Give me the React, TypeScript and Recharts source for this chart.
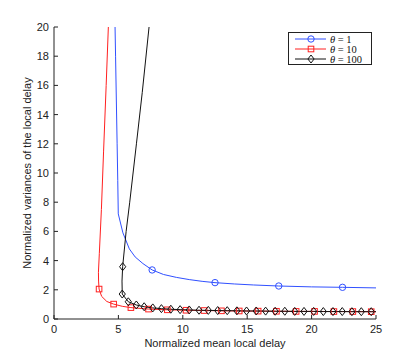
import React from 'react';
import { LineChart, Line, XAxis, YAxis } from 'recharts';

// curve points: x = mean delay, y = variance, m = marker drawn
const blueX = [4.74, 4.78, 4.84, 4.9, 4.95, 4.99, 5.35, 5.85, 6.3, 6.9, 7.62, 8.5, 9.5, 10.5, 11.5, 12.5, 14.0, 15.5, 17.45, 20.0, 22.4, 25.0];
const blueY = [20, 18, 15, 12, 9.5, 7.2, 5.9, 4.8, 4.25, 3.8, 3.36, 3.05, 2.85, 2.7, 2.58, 2.49, 2.4, 2.33, 2.26, 2.2, 2.17, 2.13];
const blueM = [7.62, 12.5, 17.45, 22.4];

const redX = [4.22, 4.05, 3.85, 3.68, 3.52, 3.45, 3.46, 3.5, 3.7, 4.1, 4.63, 5.3, 5.97, 7.34, 8.8, 10.25, 11.65, 13.0, 14.38, 15.85, 17.27, 18.8, 20.23, 21.73, 23.2, 24.63, 25.0];
const redY = [20, 16, 11.5, 7.5, 4.5, 3.2, 2.6, 2.05, 1.55, 1.2, 1.02, 0.87, 0.78, 0.68, 0.63, 0.6, 0.58, 0.56, 0.55, 0.54, 0.53, 0.52, 0.52, 0.51, 0.51, 0.5, 0.5];
const redM = [3.5, 4.63, 5.97, 7.34, 8.8, 10.25, 11.65, 13.0, 14.38, 15.85, 17.27, 18.8, 20.23, 21.73, 23.2, 24.63];

const blackX = [7.38, 6.85, 6.4, 5.88, 5.6, 5.33, 5.28, 5.3, 5.77, 6.39, 7.0, 7.67, 8.34, 9.07, 9.79, 10.5, 11.26, 11.98, 12.71, 13.45, 14.2, 14.95, 15.7, 16.43, 17.17, 17.92, 18.69, 19.41, 20.16, 20.91, 21.66, 22.38, 23.13, 23.86, 24.63, 25.0];
const blackY = [20, 15.5, 12, 8, 6, 3.58, 2.6, 1.71, 1.18, 0.96, 0.84, 0.76, 0.71, 0.67, 0.64, 0.62, 0.6, 0.59, 0.58, 0.57, 0.56, 0.55, 0.55, 0.54, 0.53, 0.53, 0.52, 0.52, 0.52, 0.51, 0.51, 0.51, 0.5, 0.5, 0.5, 0.5];
const blackM = [5.33, 5.3, 5.77, 6.39, 7.0, 7.67, 8.34, 9.07, 9.79, 10.5, 11.26, 11.98, 12.71, 13.45, 14.2, 14.95, 15.7, 16.43, 17.17, 17.92, 18.69, 19.41, 20.16, 20.91, 21.66, 22.38, 23.13, 23.86, 24.63];

const xTicks = [0, 5, 10, 15, 20, 25];
const yTicks = [0, 2, 4, 6, 8, 10, 12, 14, 16, 18, 20];

const legendLabels = ['1', '10', '100'];

const BLUE = '#3050ff';
const RED = '#ff2020';
const BLACK = '#111';

const build = (xs: number[], ys: number[], marks: number[]) =>
  xs.map((x, i) => ({ x, y: ys[i], m: marks.includes(x) }));

const blueData = build(blueX, blueY, blueM);
const redData = build(redX, redY, redM);
const blackData = build(blackX, blackY, blackM);

type Shape = 'circle' | 'square' | 'diamond';

const Marker = ({ shape, cx, cy, color }: { shape: Shape; cx: number; cy: number; color: string }) => {
  if (shape === 'circle') return <circle cx={cx} cy={cy} r={3.2} fill="none" stroke={color} strokeWidth={1} />;
  if (shape === 'square') return <rect x={cx - 2.8} y={cy - 2.8} width={5.6} height={5.6} fill="none" stroke={color} strokeWidth={1} />;
  return (
    <path
      d={`M${cx},${cy - 4}L${cx + 3.1},${cy}L${cx},${cy + 4}L${cx - 3.1},${cy}Z`}
      fill="none"
      stroke={color}
      strokeWidth={1}
    />
  );
};

const makeDot = (shape: Shape, color: string) => (props: any) => {
  const { cx, cy, payload, index } = props;
  if (!payload.m) return <g key={`n-${index}`} />;
  return (
    <g key={`d-${index}`}>
      <Marker shape={shape} cx={cx} cy={cy} color={color} />
    </g>
  );
};

const XTick = ({ x, y, payload }: any) => (
  <g>
    <line x1={x} y1={y} x2={x} y2={y - 4} stroke="#222" />
    <text x={x} y={y + 14} textAnchor="middle" fontSize={11} fill="#222" fontFamily="Liberation Sans, Arial, sans-serif">
      {payload.value}
    </text>
  </g>
);

const YTick = ({ x, y, payload }: any) => (
  <g>
    <line x1={x} y1={y} x2={x + 4} y2={y} stroke="#222" />
    <text x={x - 5} y={y + 4} textAnchor="end" fontSize={11} fill="#222" fontFamily="Liberation Sans, Arial, sans-serif">
      {payload.value}
    </text>
  </g>
);

const legendItems: { shape: Shape; color: string }[] = [
  { shape: 'circle', color: BLUE },
  { shape: 'square', color: RED },
  { shape: 'diamond', color: BLACK },
];

const ChartLegend = () => (
  <div
    style={{
      position: 'absolute',
      left: 288,
      top: 32,
      width: 82,
      height: 31,
      border: '1px solid #222',
      background: '#fff',
    }}
  >
    <svg width={82} height={31} style={{ position: 'absolute', left: 0, top: 0, overflow: 'visible' }}>
      {legendItems.map((it, i) => {
        const cy = 6 + i * 10;
        return (
          <g key={i}>
            <line x1={6} x2={37} y1={cy} y2={cy} stroke={it.color} strokeWidth={1} />
            <Marker shape={it.shape} cx={22} cy={cy} color={it.color} />
            <text x={41} y={cy + 3.5} fontSize={10.5} fill="#111" fontFamily="Liberation Serif, Times New Roman, serif">
              <tspan fontStyle="italic">θ</tspan> = {legendLabels[i]}
            </text>
          </g>
        );
      })}
    </svg>
  </div>
);

const App = () => (
  <div style={{ position: 'absolute', left: 0, top: 0, width: 415, height: 360, background: '#fff' }}>
    <LineChart width={415} height={360} margin={{ top: 27, right: 39, bottom: 0, left: 0 }}>
      <XAxis
        type="number"
        dataKey="x"
        domain={[0, 25]}
        ticks={xTicks}
        allowDataOverflow
        height={41}
        tickSize={0}
        tickMargin={0}
        tickLine={false}
        tick={<XTick />}
        stroke="#222"
        label={{
          content: () => (
            <text x={215} y={347} textAnchor="middle" fontSize={11} fill="#222" fontFamily="Liberation Sans, Arial, sans-serif">
              Normalized mean local delay
            </text>
          ),
        }}
      />
      <YAxis
        type="number"
        domain={[0, 20]}
        ticks={yTicks}
        allowDataOverflow
        width={54}
        tickSize={0}
        tickMargin={0}
        tickLine={false}
        tick={<YTick />}
        stroke="#222"
        label={{
          content: () => (
            <text
              x={28}
              y={173}
              transform="rotate(-90 28 173)"
              textAnchor="middle"
              dominantBaseline="middle"
              fontSize={11}
              fill="#222"
              fontFamily="Liberation Sans, Arial, sans-serif"
            >
              Normalized variances of the local delay
            </text>
          ),
        }}
      />
      <Line data={blueData} dataKey="y" stroke={BLUE} strokeWidth={1} dot={makeDot('circle', BLUE)} activeDot={false} isAnimationActive={false} />
      <Line data={redData} dataKey="y" stroke={RED} strokeWidth={1} dot={makeDot('square', RED)} activeDot={false} isAnimationActive={false} />
      <Line data={blackData} dataKey="y" stroke={BLACK} strokeWidth={1} dot={makeDot('diamond', BLACK)} activeDot={false} isAnimationActive={false} />
    </LineChart>
    <ChartLegend />
  </div>
);

export default App;
